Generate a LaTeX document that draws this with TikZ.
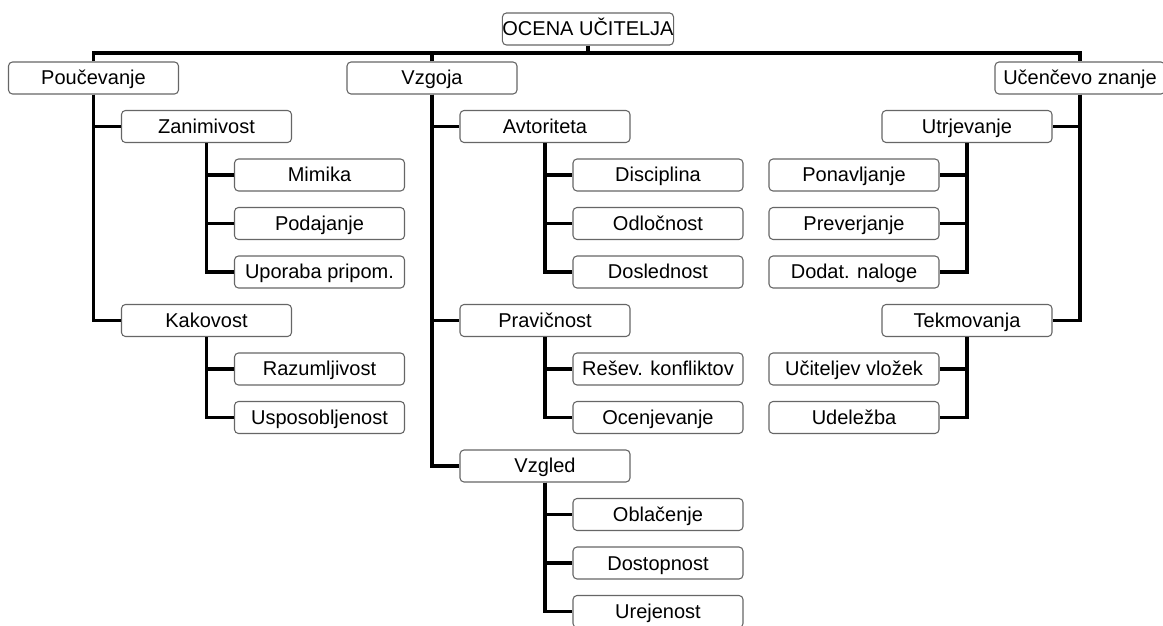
\documentclass[tikz,border=0pt]{standalone}
\usepackage{fontspec}
\setmainfont{Liberation Sans}
\usetikzlibrary{positioning}

\begin{document}
\begin{tikzpicture}[x=0.75pt, y=0.75pt, node distance=36.375pt and 84.75pt, on grid,
    box/.style={draw=black!60, fill=white, rounded corners=3pt, line width=0.8pt,
      minimum width=127.5pt, minimum height=24pt, inner sep=0pt,
      text height=13.5pt, text depth=3pt, font=\fontsize{15}{18}\selectfont},
    link/.style={line width=2.6pt, line join=miter},
    hv/.style={to path={|- (\tikztotarget)}}]
    \useasboundingbox (0,0) rectangle (1163,625);

    % Top level
    \node[box] (ocena) at (588,596) {OCENA UČITELJA};
    \node[box] (pouc) at (93.5,547) {Poučevanje};
    \node[box] (vzgoja) at (432,547) {Vzgoja};
    \node[box] (znanje) at (1080,547) {Učenčevo znanje};
    \coordinate (bus) at (588,572);

    % Poučevanje
    \node[box] (zanim) [below right=of pouc] {Zanimivost};
    \node[box] (mimika) [below right=of zanim] {Mimika};
    \node[box] (podaj) [below=of mimika] {Podajanje};
    \node[box] (upor) [below=of podaj] {Uporaba pripom.};
    \node[box] (kakov) [below left=of upor] {Kakovost};
    \node[box] (razum) [below right=of kakov] {Razumljivost};
    \node[box] (uspos) [below=of razum] {Usposobljenost};

    % Vzgoja
    \node[box] (avtor) [below right=of vzgoja] {Avtoriteta};
    \node[box] (disc) [below right=of avtor] {Disciplina};
    \node[box] (odloc) [below=of disc] {Odločnost};
    \node[box] (dosl) [below=of odloc] {Doslednost};
    \node[box] (pravic) [below left=of dosl] {Pravičnost};
    \node[box] (resev) [below right=of pravic] {Rešev. konfliktov};
    \node[box] (ocenj) [below=of resev] {Ocenjevanje};
    \node[box] (vzgled) [below left=of ocenj] {Vzgled};
    \node[box] (oblac) [below right=of vzgled] {Oblačenje};
    \node[box] (dostop) [below=of oblac] {Dostopnost};
    \node[box] (urej) [below=of dostop] {Urejenost};

    % Učenčevo znanje
    \node[box] (utrj) [below left=of znanje] {Utrjevanje};
    \node[box] (ponav) [below left=of utrj] {Ponavljanje};
    \node[box] (preve) [below=of ponav] {Preverjanje};
    \node[box] (dodat) [below=of preve] {Dodat. naloge};
    \node[box] (tekm) [below right=of dodat] {Tekmovanja};
    \node[box] (vlozek) [below left=of tekm] {Učiteljev vložek};
    \node[box] (udel) [below=of vlozek] {Udeležba};

    % Links
    \draw[link] (ocena.south) -- (bus);
    \draw[link] (pouc.north) |- (bus) -| (znanje.north);
    \draw[link] (vzgoja.north) -- (vzgoja.north |- bus);
    \path[link]
        (pouc.south) edge[hv] (zanim.west)
                     edge[hv] (kakov.west)
        (zanim.south) edge[hv] (mimika.west)
                      edge[hv] (podaj.west)
                      edge[hv] (upor.west)
        (kakov.south) edge[hv] (razum.west)
                      edge[hv] (uspos.west)
        (vzgoja.south) edge[hv] (avtor.west)
                       edge[hv] (pravic.west)
                       edge[hv] (vzgled.west)
        (avtor.south) edge[hv] (disc.west)
                      edge[hv] (odloc.west)
                      edge[hv] (dosl.west)
        (pravic.south) edge[hv] (resev.west)
                       edge[hv] (ocenj.west)
        (vzgled.south) edge[hv] (oblac.west)
                       edge[hv] (dostop.west)
                       edge[hv] (urej.west)
        (znanje.south) edge[hv] (utrj.east)
                       edge[hv] (tekm.east)
        (utrj.south) edge[hv] (ponav.east)
                     edge[hv] (preve.east)
                     edge[hv] (dodat.east)
        (tekm.south) edge[hv] (vlozek.east)
                     edge[hv] (udel.east);
\end{tikzpicture}
\end{document}
